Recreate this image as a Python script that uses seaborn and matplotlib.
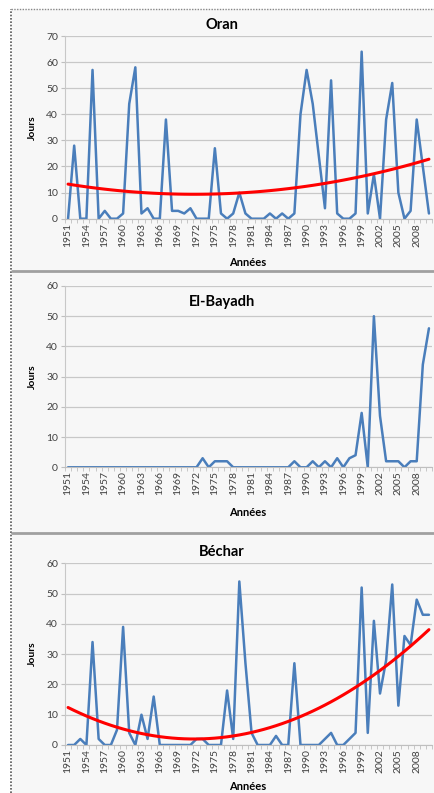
import numpy as np
import pandas as pd
import matplotlib
matplotlib.use("Agg")
import matplotlib.pyplot as plt
from matplotlib.patches import Rectangle
from matplotlib.lines import Line2D
import seaborn as sns

sns.set_style("white")
plt.rcParams['font.family'] = ['Lato', 'DejaVu Sans']

# Données : nombre de jours par an (1951-2010)
annees = list(range(1951, 2011))
oran = [0, 28, 0, 0, 57, 0, 3, 0, 0, 2,
        44, 58, 2, 4, 0, 0, 38, 3, 3, 2,
        4, 0, 0, 0, 27, 2, 0, 2, 10, 2,
        0, 0, 0, 2, 0, 2, 0, 2, 40, 57,
        44, 24, 4, 53, 2, 0, 0, 2, 64, 2,
        17, 0, 38, 52, 10, 0, 3, 38, 20, 2]
el_bayadh = [0, 0, 0, 0, 0, 0, 0, 0, 0, 0,
             0, 0, 0, 0, 0, 0, 0, 0, 0, 0,
             0, 0, 3, 0, 2, 2, 2, 0, 0, 0,
             0, 0, 0, 0, 0, 0, 0, 2, 0, 0,
             2, 0, 2, 0, 3, 0, 3, 4, 18, 0,
             50, 17, 2, 2, 2, 0, 2, 2, 34, 46]
bechar = [0, 0, 2, 0, 34, 2, 0, 0, 5, 39,
          4, 0, 10, 2, 16, 0, 0, 0, 0, 0,
          0, 2, 2, 0, 0, 0, 18, 2, 54, 27,
          4, 0, 0, 0, 3, 0, 0, 27, 0, 0,
          0, 0, 2, 4, 0, 0, 2, 4, 52, 4,
          41, 17, 28, 53, 13, 36, 33, 48, 43, 43]

W, H = 435, 793
fig = plt.figure(figsize=(W / 100, H / 100), dpi=100)

# fond et cadres
fig.patches.append(Rectangle((12 / W, 0), 1, 1 - 9 / H, transform=fig.transFigure,
                             facecolor='#f7f7f7', edgecolor='none', zorder=-10))
fig.lines.append(Line2D([11 / W, 11 / W], [0, 1 - 9 / H], transform=fig.transFigure,
                        color='#555555', lw=1.2, ls=(0, (1, 1))))
fig.lines.append(Line2D([11 / W, 1], [1 - 9 / H, 1 - 9 / H], transform=fig.transFigure,
                        color='#888888', lw=1.0, ls=(0, (1, 1))))
for ys in (271, 533):
    fig.lines.append(Line2D([12 / W, 1], [1 - ys / H, 1 - ys / H], transform=fig.transFigure,
                            color='#a0a0a0', lw=2))


def panneau(valeurs, titre, top, bottom, ymax, title_y, xlab_y, tendance):
    ax = fig.add_axes([65 / W, 1 - bottom / H, (432 - 65) / W, (bottom - top) / H])
    ax.set_facecolor('none')
    df = pd.DataFrame({'idx': np.arange(len(annees)), 'val': valeurs})
    sns.lineplot(data=df, x='idx', y='val', ax=ax, color='#4a7ebb', lw=1.8)
    if tendance:
        coef = np.polyfit(df['idx'], df['val'], 2)
        df['trend'] = np.polyval(coef, df['idx'])
        sns.lineplot(data=df, x='idx', y='trend', ax=ax, color='#ff0000', lw=2.2)
    ax.set_xlim(-0.5, len(annees) - 0.5)
    ax.set_ylim(0, ymax)
    ax.set_yticks(range(0, ymax + 1, 10))
    ax.set_xticks(range(0, len(annees), 3))
    ax.set_xticklabels([str(a) for a in annees[::3]], rotation=90)
    ax.set_xticks(np.arange(-0.5, len(annees), 1), minor=True)
    ax.tick_params(axis='x', which='major', length=0, labelsize=7.5,
                   labelcolor='#404040', pad=3)
    ax.tick_params(axis='x', which='minor', length=3, color='#bfbfbf', bottom=True)
    ax.tick_params(axis='y', length=3, color='#bfbfbf', labelsize=7.5,
                   labelcolor='#404040', left=True, pad=2)
    ax.grid(axis='y', color='#c8c8c8', lw=0.9)
    ax.set_axisbelow(True)
    for s in ('top', 'right'):
        ax.spines[s].set_visible(False)
    ax.spines['left'].set_color('#c8c8c8')
    ax.spines['bottom'].set_color('#bfbfbf')
    ax.set_xlabel('')
    ax.set_ylabel('')
    fig.text(222 / W, 1 - title_y / H, titre, ha='center', va='center',
             fontsize=10.5, fontweight='bold', color='#000000')
    fig.text(32 / W, 1 - (top + bottom) / 2 / H, 'Jours', rotation=90, ha='center',
             va='center', fontsize=7.5, fontweight='bold', color='#000000')
    fig.text(248 / W, 1 - xlab_y / H, 'Années', ha='center', va='center',
             fontsize=8, fontweight='bold', color='#000000')
    return ax


panneau(oran, 'Oran', 36, 218.7, 70, 25, 262, True)
panneau(el_bayadh, 'El-Bayadh', 286, 467.3, 60, 302, 512, False)
panneau(bechar, 'Béchar', 563.3, 745, 60, 552, 786, True)

fig.savefig('out.png', dpi=100, facecolor='white')
